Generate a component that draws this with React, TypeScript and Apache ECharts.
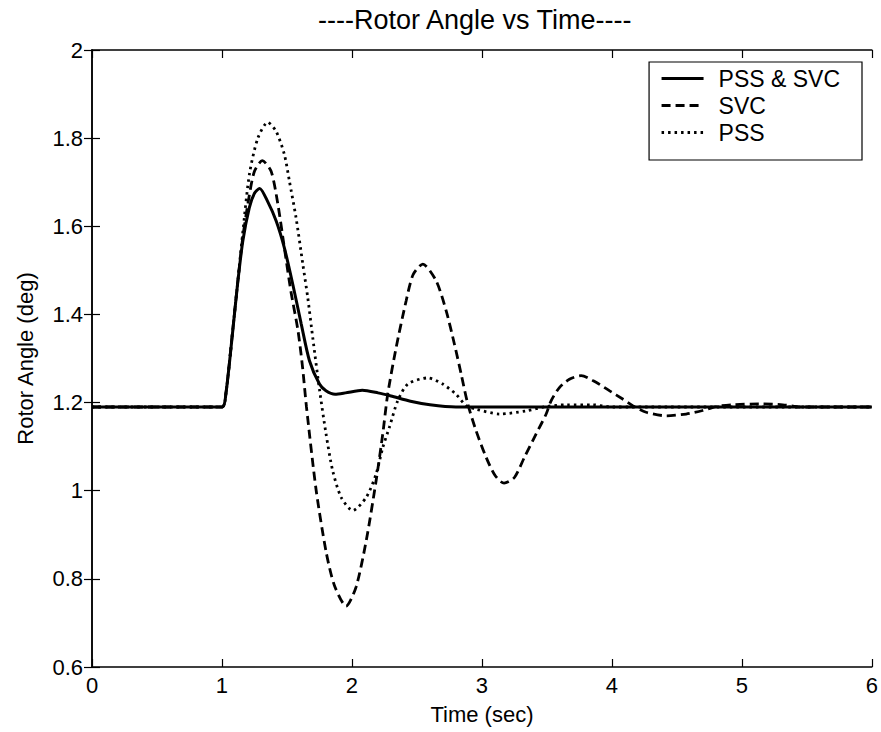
import React, { useEffect, useRef } from "react";
import * as echarts from "echarts";

const TITLE = "----Rotor Angle vs Time----";
const X_NAME = "Time (sec)";
const Y_NAME = "Rotor Angle (deg)";
const SERIES_NAMES = ["PSS & SVC", "SVC", "PSS"];

const solidT = [0, 1.0, 1.03, 1.083, 1.12, 1.16, 1.21, 1.25, 1.29, 1.35, 1.417, 1.48, 1.545, 1.61, 1.673, 1.75, 1.8, 1.87, 1.95, 2.08, 2.2, 2.3, 2.45, 2.6, 2.8, 6.0];
const solidV = [1.19, 1.19, 1.22, 1.363, 1.469, 1.566, 1.642, 1.675, 1.686, 1.657, 1.612, 1.551, 1.468, 1.378, 1.295, 1.242, 1.227, 1.219, 1.222, 1.228, 1.222, 1.215, 1.203, 1.195, 1.19, 1.19];

const svcT = [0, 1.0, 1.03, 1.083, 1.12, 1.16, 1.21, 1.25, 1.31, 1.378, 1.43, 1.48, 1.53, 1.585, 1.62, 1.65, 1.725, 1.802, 1.865, 1.955, 2.032, 2.11, 2.186, 2.237, 2.275, 2.34, 2.417, 2.47, 2.545, 2.648, 2.725, 2.788, 2.84, 2.891, 2.955, 3.032, 3.1, 3.17, 3.25, 3.327, 3.417, 3.494, 3.532, 3.596, 3.673, 3.763, 3.878, 3.98, 4.083, 4.16, 4.263, 4.417, 4.571, 4.698, 4.8, 4.93, 5.135, 5.314, 5.45, 6.0];
const svcV = [1.19, 1.19, 1.22, 1.365, 1.47, 1.575, 1.67, 1.725, 1.749, 1.725, 1.65, 1.551, 1.453, 1.363, 1.28, 1.19, 1.0, 0.86, 0.785, 0.738, 0.782, 0.887, 1.023, 1.129, 1.219, 1.325, 1.431, 1.49, 1.514, 1.476, 1.408, 1.333, 1.265, 1.197, 1.136, 1.076, 1.035, 1.017, 1.03, 1.076, 1.129, 1.174, 1.204, 1.234, 1.253, 1.261, 1.246, 1.227, 1.208, 1.193, 1.178, 1.17, 1.174, 1.182, 1.191, 1.195, 1.197, 1.195, 1.19, 1.19];

const pssT = [0, 1.0, 1.03, 1.083, 1.12, 1.165, 1.212, 1.276, 1.352, 1.417, 1.48, 1.519, 1.57, 1.622, 1.66, 1.698, 1.75, 1.8, 1.852, 1.917, 2.006, 2.11, 2.186, 2.237, 2.288, 2.352, 2.43, 2.583, 2.698, 2.8, 2.878, 2.955, 3.135, 3.34, 3.494, 3.648, 3.85, 4.0, 6.0];
const pssV = [1.19, 1.19, 1.22, 1.365, 1.47, 1.6, 1.72, 1.8, 1.836, 1.815, 1.763, 1.702, 1.619, 1.514, 1.438, 1.348, 1.23, 1.13, 1.045, 0.985, 0.955, 0.985, 1.038, 1.098, 1.144, 1.204, 1.242, 1.256, 1.242, 1.219, 1.193, 1.185, 1.174, 1.181, 1.191, 1.195, 1.195, 1.19, 1.19];

const X_MIN = 0, X_MAX = 6, X_STEP = 1;
const Y_MIN = 0.6, Y_MAX = 2, Y_STEP = 0.2;

const FONT = "'Liberation Sans', Arial, sans-serif";

function pairs(t: number[], v: number[]) {
  return t.map((x, i) => [x, v[i]]);
}

export default function App() {
  const ref = useRef<HTMLDivElement>(null);
  useEffect(() => {
    if (!ref.current) return;
    const chart = echarts.init(ref.current, null, { renderer: "svg" });
    const axisLine = { show: true, lineStyle: { color: "#000", width: 1.5 } };
    const tick = { show: true, inside: true, length: 8, lineStyle: { color: "#000", width: 1.2 } };
    const labelStyle = { color: "#000", fontSize: 22, fontFamily: FONT };
    const common = {
      type: "line",
      showSymbol: false,
      symbol: "none",
      smooth: 0.25,
      color: "#000",
      itemStyle: { color: "#000" },
    };
    chart.setOption({
      animation: false,
      backgroundColor: "#fff",
      color: ["#000", "#000", "#000"],
      title: {
        text: TITLE,
        left: 318,
        top: 6,
        padding: 0,
        textStyle: { color: "#000", fontSize: 27, fontWeight: "normal", fontFamily: FONT },
      },
      legend: {
        orient: "vertical",
        right: 19,
        top: 62,
        padding: [5, 22, 16, 11],
        itemGap: 4,
        itemWidth: 42,
        itemHeight: 14,
        borderColor: "#000",
        borderWidth: 1.2,
        backgroundColor: "#fff",
        itemStyle: { opacity: 0 },
        lineStyle: { width: 3 },
        textStyle: { color: "#000", fontSize: 23, fontFamily: FONT, padding: [0, 0, 0, 10] },
        data: SERIES_NAMES,
      },
      grid: { left: 92, right: 8, top: 50, bottom: 65, containLabel: false },
      xAxis: [
        {
          type: "value",
          min: X_MIN,
          max: X_MAX,
          interval: X_STEP,
          position: "bottom",
          name: X_NAME,
          nameLocation: "middle",
          nameGap: 36,
          nameTextStyle: { color: "#000", fontSize: 22, fontFamily: FONT },
          axisLine,
          axisTick: tick,
          axisLabel: { ...labelStyle, margin: 7 },
          splitLine: { show: false },
        },
        {
          type: "value",
          min: X_MIN,
          max: X_MAX,
          interval: X_STEP,
          position: "top",
          axisLine,
          axisTick: tick,
          axisLabel: { show: false },
          splitLine: { show: false },
        },
      ],
      yAxis: [
        {
          type: "value",
          min: Y_MIN,
          max: Y_MAX,
          interval: Y_STEP,
          position: "left",
          name: Y_NAME,
          nameLocation: "middle",
          nameGap: 56,
          nameRotate: 90,
          nameTextStyle: { color: "#000", fontSize: 22, fontFamily: FONT },
          axisLine,
          axisTick: tick,
          axisLabel: {
            ...labelStyle,
            margin: 9,
            formatter: (v: number) => String(Math.round(v * 10) / 10),
          },
          splitLine: { show: false },
        },
        {
          type: "value",
          min: Y_MIN,
          max: Y_MAX,
          interval: Y_STEP,
          position: "right",
          axisLine,
          axisTick: tick,
          axisLabel: { show: false },
          splitLine: { show: false },
        },
      ],
      series: [
        {
          ...common,
          name: SERIES_NAMES[1],
          data: pairs(svcT, svcV),
          lineStyle: { color: "#000", width: 2.8, type: [9, 5] },
          z: 2,
        },
        {
          ...common,
          name: SERIES_NAMES[2],
          data: pairs(pssT, pssV),
          lineStyle: { color: "#000", width: 2.8, type: [2.5, 4] },
          z: 2,
        },
        {
          ...common,
          name: SERIES_NAMES[0],
          data: pairs(solidT, solidV),
          lineStyle: { color: "#000", width: 3, type: "solid" },
          z: 3,
        },
      ],
    });
    return () => chart.dispose();
  }, []);
  return (
    <div
      ref={ref}
      style={{ position: "fixed", left: 0, top: 0, width: 881, height: 732, background: "#fff" }}
    />
  );
}
